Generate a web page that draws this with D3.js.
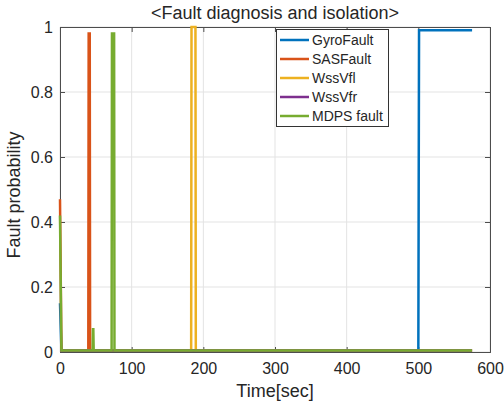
<!DOCTYPE html>
<html>
<head>
<meta charset="utf-8">
<script src="https://cdn.jsdelivr.net/npm/d3@7/dist/d3.min.js"></script>
<style>
  body { margin: 0; background: #fff; }
  svg text { font-family: Arial, "Liberation Sans", sans-serif; fill: #262626; }
</style>
</head>
<body>
<div id="chart"></div>
<script>
// series data (time in sec, fault probability)
const gyroT = [0, 2, 3, 500, 501, 575];
const gyroV = [0.15, 0.005, 0.005, 0.005, 0.99, 0.99];

const sasT = [0, 2, 3, 39.5, 40, 41.5, 42, 575];
const sasV = [0.47, 0.005, 0.005, 0.005, 0.98, 0.98, 0.005, 0.005];

const wssVflT = [0, 183, 183.5, 189, 189.5, 575];
const wssVflV = [0.005, 0.005, 1, 1, 0.005, 0.005];

const wssVfrT = [0, 575];
const wssVfrV = [0.005, 0.005];

const mdpsT = [0, 2, 3, 45.5, 46, 46.5, 47, 72, 72.5, 75.5, 76, 575];
const mdpsV = [0.42, 0.005, 0.005, 0.005, 0.07, 0.07, 0.005, 0.005, 0.98, 0.98, 0.005, 0.005];

const seriesNames = ["GyroFault", "SASFault", "WssVfl", "WssVfr", "MDPS fault"];
const seriesColors = ["#0072BD", "#D95319", "#EDB120", "#7E2F8E", "#77AC30"];
const xTicks = [0, 100, 200, 300, 400, 500, 600];
const yTicks = [0, 0.2, 0.4, 0.6, 0.8, 1];

const series = [
  { t: gyroT, v: gyroV },
  { t: sasT, v: sasV },
  { t: wssVflT, v: wssVflV },
  { t: wssVfrT, v: wssVfrV },
  { t: mdpsT, v: mdpsV }
];

const width = 504, height = 404;
const plotL = 60, plotR = 490, plotT = 27, plotB = 352;

const svg = d3.select("#chart").append("svg")
  .attr("width", width)
  .attr("height", height);

const x = d3.scaleLinear().domain([0, 600]).range([plotL, plotR]);
const y = d3.scaleLinear().domain([0, 1]).range([plotB, plotT]);

// grid
const grid = svg.append("g").attr("stroke", "#e3e3e3").attr("stroke-width", 1);
xTicks.forEach(t => {
  grid.append("line").attr("x1", x(t)).attr("x2", x(t)).attr("y1", plotT).attr("y2", plotB);
});
yTicks.forEach(t => {
  grid.append("line").attr("x1", plotL).attr("x2", plotR).attr("y1", y(t)).attr("y2", y(t));
});

// axes with inward ticks
const axisColor = "#4d4d4d";
const xAxis = svg.append("g")
  .attr("transform", "translate(0," + plotB + ")")
  .call(d3.axisBottom(x).tickValues(xTicks).tickSize(-5).tickPadding(11).tickFormat(d3.format("d")));
const xAxisTop = svg.append("g")
  .attr("transform", "translate(0," + plotT + ")")
  .call(d3.axisTop(x).tickValues(xTicks).tickSize(-5).tickFormat(""));
const yAxis = svg.append("g")
  .attr("transform", "translate(" + plotL + ",0)")
  .call(d3.axisLeft(y).tickValues(yTicks).tickSize(-5).tickPadding(7).tickFormat(d => d === 0 ? "0" : d === 1 ? "1" : d3.format(".1f")(d)));
const yAxisRight = svg.append("g")
  .attr("transform", "translate(" + plotR + ",0)")
  .call(d3.axisRight(y).tickValues(yTicks).tickSize(-5).tickFormat(""));

[xAxis, xAxisTop, yAxis, yAxisRight].forEach(g => {
  g.select(".domain").attr("stroke", axisColor).attr("stroke-width", 1);
  g.selectAll(".tick line").attr("stroke", axisColor);
  g.selectAll(".tick text").attr("font-size", 16).attr("fill", "#262626")
    .style("font-family", "Arial, 'Liberation Sans', sans-serif");
});

// lines
const line = d3.line().x(d => x(d[0])).y(d => y(d[1]));
series.forEach((s, i) => {
  svg.append("path")
    .datum(s.t.map((t, k) => [t, s.v[k]]))
    .attr("fill", "none")
    .attr("stroke", seriesColors[i])
    .attr("stroke-width", 2.5)
    .attr("d", line);
});

// title and labels
svg.append("text")
  .attr("x", 275).attr("y", 19)
  .attr("text-anchor", "middle")
  .attr("font-size", 18)
  .text("<Fault diagnosis and isolation>");

svg.append("text")
  .attr("x", 275).attr("y", 397)
  .attr("text-anchor", "middle")
  .attr("font-size", 18)
  .text("Time[sec]");

svg.append("text")
  .attr("transform", "translate(20,195) rotate(-90)")
  .attr("text-anchor", "middle")
  .attr("font-size", 18)
  .text("Fault probability");

// legend
const lg = svg.append("g");
lg.append("rect")
  .attr("x", 276.5).attr("y", 29.5)
  .attr("width", 112).attr("height", 97)
  .attr("fill", "#fff")
  .attr("stroke", "#333")
  .attr("stroke-width", 1);
seriesNames.forEach((name, i) => {
  const yy = 40 + i * 19;
  lg.append("line")
    .attr("x1", 280).attr("x2", 309)
    .attr("y1", yy).attr("y2", yy)
    .attr("stroke", seriesColors[i])
    .attr("stroke-width", 2.5);
  lg.append("text")
    .attr("x", 312).attr("y", yy + 5)
    .attr("font-size", 14)
    .text(name);
});
</script>
</body>
</html>
